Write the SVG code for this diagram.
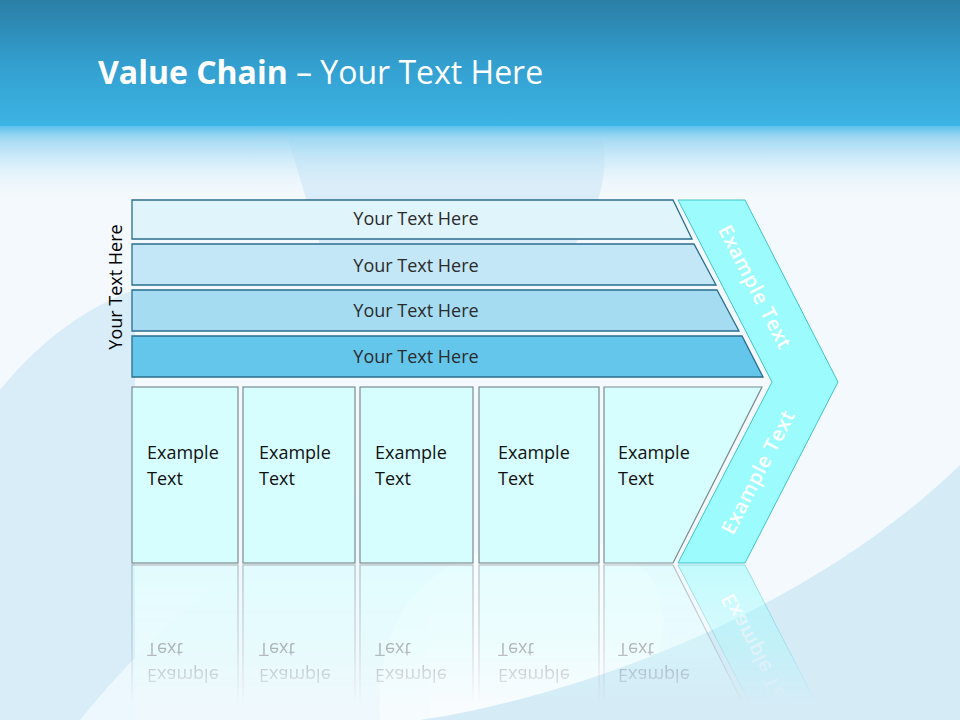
<svg xmlns="http://www.w3.org/2000/svg" width="960" height="720" viewBox="0 0 960 720">
<defs>
  <linearGradient id="hdr" x1="0" y1="0" x2="0" y2="1">
    <stop offset="0" stop-color="#2a7ea5"/>
    <stop offset="0.5" stop-color="#339fcf"/>
    <stop offset="1" stop-color="#3db5e5"/>
  </linearGradient>
  <linearGradient id="fadeHdr" x1="0" y1="0" x2="0" y2="1">
    <stop offset="0" stop-color="#5cc2ec" stop-opacity="1"/>
    <stop offset="0.15" stop-color="#9ad6f2" stop-opacity="0.95"/>
    <stop offset="1" stop-color="#f3f9fd" stop-opacity="0"/>
  </linearGradient>
  <linearGradient id="reflFade" gradientUnits="userSpaceOnUse" x1="0" y1="564" x2="0" y2="705">
    <stop offset="0" stop-color="#fff" stop-opacity="0.55"/>
    <stop offset="0.6" stop-color="#fff" stop-opacity="0.3"/>
    <stop offset="1" stop-color="#fff" stop-opacity="0"/>
  </linearGradient>
  <mask id="reflMask" maskUnits="userSpaceOnUse" x="0" y="560" width="960" height="160">
    <rect x="0" y="560" width="960" height="160" fill="url(#reflFade)"/>
  </mask>
  <style>
    .bar { stroke: #2a6e8f; stroke-width: 1.3; }
    .btxt { font-family: "Open Sans", "Liberation Sans", sans-serif; font-size: 18px; fill: #2b2b2b; text-anchor: middle; }
    .box { fill: #d6feff; stroke: #7b8a90; stroke-width: 1.2; }
    .etxt { font-family: "Open Sans", "Liberation Sans", sans-serif; font-size: 18px; fill: #111; }
    .chev { fill: #9cfcfd; stroke: #3fc3cb; stroke-width: 1; }
    .ctxt { font-family: "Open Sans", "Liberation Sans", sans-serif; font-size: 20px; font-weight: 600; fill: #ffffff; text-anchor: middle; letter-spacing: 0.6px; }
  </style>
</defs>

<!-- background -->
<g id="background">
  <rect x="0" y="0" width="960" height="720" fill="#f3f9fd"/>
  <path d="M0,390 C40,340 90,305 135,290 L135,720 L0,720 Z" fill="#d8edf8"/>
  <path d="M80,720 C160,620 260,540 420,455 L430,720 Z" fill="#eef8fd" opacity="0.9"/>
  <path d="M380,720 C375,620 420,560 520,540 C640,520 700,600 640,690 C600,720 500,720 380,720 Z" fill="#ffffff" opacity="0.45"/>
  <path d="M420,720 C560,700 800,620 960,465 L960,720 Z" fill="#d5ecf7"/>
  <path d="M285,128 L325,262 L560,262 C600,220 612,170 600,128 Z" fill="#c3e2f4" opacity="0.55"/>
  <rect x="0" y="0" width="960" height="128" fill="url(#hdr)"/>
  <rect x="0" y="126" width="960" height="74" fill="url(#fadeHdr)"/>
</g>

<g id="title">
  <text x="98" y="84" font-family="Open Sans, Liberation Sans, sans-serif" font-size="32" fill="#ffffff"><tspan font-weight="700">Value Chain</tspan> – Your Text Here</text>
</g>

<g id="side-label">
  <text transform="translate(122,287) rotate(-90)" x="0" y="0" font-family="Open Sans, Liberation Sans, sans-serif" font-size="18" fill="#000" text-anchor="middle">Your Text Here</text>
</g>

<!-- reflection -->
<g id="reflection" mask="url(#reflMask)">
  <g transform="matrix(1,0,0,-1,0,1128)">
    <rect class="box" x="132" y="387" width="106" height="176"/>
    <rect class="box" x="243" y="387" width="112" height="176"/>
    <rect class="box" x="360" y="387" width="113" height="176"/>
    <rect class="box" x="479" y="387" width="120" height="176"/>
    <polygon class="box" points="604,387 762,387 673,563 604,563"/>
    <polygon class="chev" points="772,382 838,382 745,563 678,563"/>
    <g class="etxt" fill="#556">
      <text x="147" y="459">Example</text><text x="147" y="485">Text</text>
      <text x="259" y="459">Example</text><text x="259" y="485">Text</text>
      <text x="375" y="459">Example</text><text x="375" y="485">Text</text>
      <text x="498" y="459">Example</text><text x="498" y="485">Text</text>
      <text x="618" y="459">Example</text><text x="618" y="485">Text</text>
    </g>
    <text class="ctxt" transform="translate(758,472) rotate(-62.8)" x="0" y="7">Example Text</text>
  </g>
</g>

<g id="bars">
  <g id="bar1"><polygon class="bar" points="132,200 673,200 692,239 132,239" fill="#e0f4fb"/><text class="btxt" x="416" y="225">Your Text Here</text></g>
  <g id="bar2"><polygon class="bar" points="132,244 694,244 716,285 132,285" fill="#c4e7f7"/><text class="btxt" x="416" y="272">Your Text Here</text></g>
  <g id="bar3"><polygon class="bar" points="132,290 717,290 739,331 132,331" fill="#a5dcf2"/><text class="btxt" x="416" y="317">Your Text Here</text></g>
  <g id="bar4"><polygon class="bar" points="132,336 742,336 763,377 132,377" fill="#65c6ec"/><text class="btxt" x="416" y="363">Your Text Here</text></g>
</g>

<g id="boxes">
  <g id="box1"><rect class="box" x="132" y="387" width="106" height="176"/><text class="etxt" x="147" y="459">Example</text><text class="etxt" x="147" y="485">Text</text></g>
  <g id="box2"><rect class="box" x="243" y="387" width="112" height="176"/><text class="etxt" x="259" y="459">Example</text><text class="etxt" x="259" y="485">Text</text></g>
  <g id="box3"><rect class="box" x="360" y="387" width="113" height="176"/><text class="etxt" x="375" y="459">Example</text><text class="etxt" x="375" y="485">Text</text></g>
  <g id="box4"><rect class="box" x="479" y="387" width="120" height="176"/><text class="etxt" x="498" y="459">Example</text><text class="etxt" x="498" y="485">Text</text></g>
  <g id="box5"><polygon class="box" points="604,387 762,387 673,563 604,563"/><text class="etxt" x="618" y="459">Example</text><text class="etxt" x="618" y="485">Text</text></g>
</g>

<g id="chevron">
  <path class="chev" d="M678,200 L745,200 L838,382 L745,563 L678,563 L772,382 Z"/>
  <text class="ctxt" transform="translate(755,287) rotate(62.8)" x="0" y="7">Example Text</text>
  <text class="ctxt" transform="translate(758,472) rotate(-62.8)" x="0" y="7">Example Text</text>
</g>

<g id="connectors"></g>
</svg>
